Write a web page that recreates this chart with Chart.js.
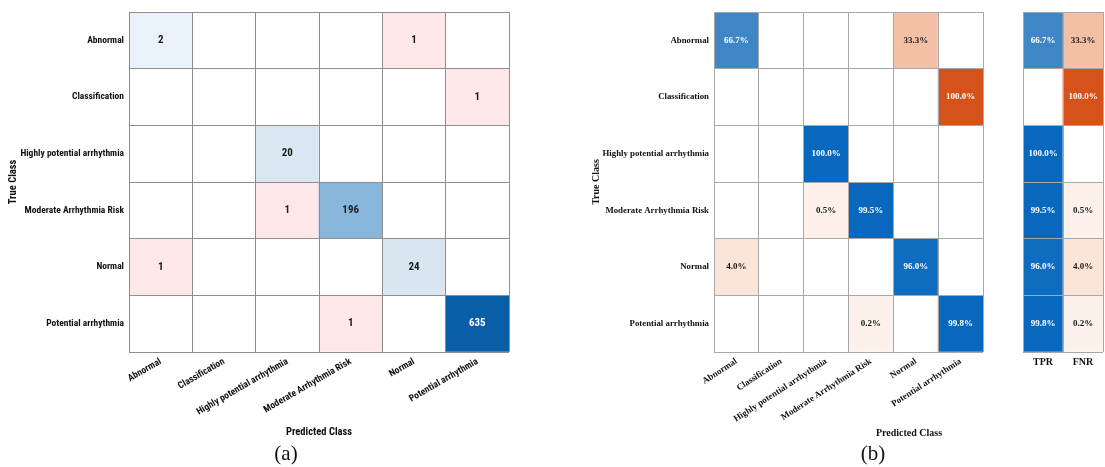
<!DOCTYPE html>
<html>
<head>
<meta charset="utf-8">
<script src="https://cdn.jsdelivr.net/npm/chart.js@4.4.1/dist/chart.umd.min.js"></script>
<style>
  html, body { margin: 0; padding: 0; background: #fff; }
  body { width: 1105px; height: 467px; position: relative; overflow: hidden; }
  canvas { position: absolute; top: 0; }
  .texto { position: absolute; transform: translate(-50%, -50%); white-space: nowrap; color: #111;
           font-family: "Liberation Serif", "Times New Roman", serif; }
  .titulo { font-size: 10px; font-weight: bold; }
  .legenda { font-size: 21px; }
</style>
</head>
<body>
<canvas id="graficoContagem" width="520" height="443" style="left:0"></canvas>
<canvas id="graficoPercentual" width="440" height="443" style="left:560px"></canvas>
<canvas id="graficoTaxas" width="100" height="443" style="left:1005px"></canvas>
<div class="texto titulo" style="left:909px;top:432px">Predicted Class</div>
<div class="texto legenda" style="left:286px;top:453px">(a)</div>
<div class="texto legenda" style="left:873px;top:453px">(b)</div>

<script>
// ===== Dados =====
const classes = ["Abnormal", "Classification", "Highly potential arrhythmia",
                 "Moderate Arrhythmia Risk", "Normal", "Potential arrhythmia"];

// contagens: linha = classe verdadeira, coluna = classe prevista
const contAbnormal       = [2, 0, 0, 0, 1, 0];
const contClassification = [0, 0, 0, 0, 0, 1];
const contHighly         = [0, 0, 20, 0, 0, 0];
const contModerate       = [0, 0, 1, 196, 0, 0];
const contNormal         = [1, 0, 0, 0, 24, 0];
const contPotential      = [0, 0, 0, 1, 0, 635];

// percentuais por linha (%)
const pctAbnormal       = [66.7, 0, 0, 0, 33.3, 0];
const pctClassification = [0, 0, 0, 0, 0, 100.0];
const pctHighly         = [0, 0, 100.0, 0, 0, 0];
const pctModerate       = [0, 0, 0.5, 99.5, 0, 0];
const pctNormal         = [4.0, 0, 0, 0, 96.0, 0];
const pctPotential      = [0, 0, 0, 0.2, 0, 99.8];

// taxas por classe verdadeira
const taxaLabels = ["TPR", "FNR"];
const tpr = [66.7, 0, 100.0, 99.5, 96.0, 99.8];
const fnr = [33.3, 100.0, 0, 0.5, 4.0, 0.2];

const contagens = [contAbnormal, contClassification, contHighly, contModerate, contNormal, contPotential];
const percentuais = [pctAbnormal, pctClassification, pctHighly, pctModerate, pctNormal, pctPotential];
const taxas = tpr.map((t, i) => [t, fnr[i]]);
const nLinhas = classes.length;

// ===== Fontes =====
// usa a versão condensada do Roboto se estiver instalada
function fonteInstalada(nome) {
  const ctx = document.createElement("canvas").getContext("2d");
  const amostra = "Highly potential arrhythmia 0123";
  ctx.font = "bold 20px monospace";
  const base = ctx.measureText(amostra).width;
  ctx.font = `bold 20px '${nome}', monospace`;
  return ctx.measureText(amostra).width !== base;
}
const temCondensada = fonteInstalada("Roboto Condensed");
const fonteSans = temCondensada ? "'Roboto Condensed', Roboto, sans-serif" : "Roboto, 'Liberation Sans', sans-serif";
const tamRotuloA = temCondensada ? 9.5 : 9;
const fonteSerif = "'Liberation Serif', 'Times New Roman', serif";

// ===== Cores =====
function hexRgb(h) {
  const n = parseInt(h.slice(1), 16);
  return [n >> 16, (n >> 8) & 255, n & 255];
}
function rampa(paradas, t) {
  t = Math.max(0, Math.min(1, t));
  for (let i = 1; i < paradas.length; i++) {
    const [t0, c0] = paradas[i - 1];
    const [t1, c1] = paradas[i];
    if (t <= t1) {
      const k = (t - t0) / (t1 - t0);
      const a = hexRgb(c0), b = hexRgb(c1);
      return a.map((x, j) => Math.round(x + (b[j] - x) * k));
    }
  }
  return hexRgb(paradas[paradas.length - 1][1]);
}
const rgb = c => `rgb(${c.join(",")})`;
const corTexto = c => (0.299 * c[0] + 0.587 * c[1] + 0.114 * c[2]) / 255 < 0.55 ? "#ffffff" : "#1a1a1a";

const maxCont = Math.max(...contagens.flat());
const azulCont = [[0, "#ffffff"], [0.17, "#e9f1fa"], [0.5, "#d9e6f2"], [0.82, "#89b7db"], [1, "#0a5ea7"]];
const vermelhoCont = [[0, "#ffffff"], [0.11, "#fde6e7"], [1, "#c0392b"]];
const azulPct = [[0, "#ffffff"], [0.667, "#3f86c6"], [1, "#0868be"]];
const laranjaPct = [[0, "#ffffff"], [0.001, "#fdf2eb"], [0.05, "#fbe1d3"], [0.333, "#f3c0a5"], [1, "#d5531a"]];

function corContagem(v, r, c) {
  if (!v) return [255, 255, 255];
  const t = Math.log(1 + v) / Math.log(1 + maxCont);
  return rampa(r === c ? azulCont : vermelhoCont, t);
}
function corPercentual(v, r, c) {
  if (!v) return [255, 255, 255];
  return rampa(r === c ? azulPct : laranjaPct, v / 100);
}
function corTaxa(v, r, c) {
  if (!v) return [255, 255, 255];
  return rampa(c === 0 ? azulPct : laranjaPct, v / 100);
}

// ===== Datasets: uma linha da matriz por dataset, barras flutuantes de altura 1 =====
function montarLinhas(matriz, corCelula) {
  return matriz.map((linha, r) => {
    const cores = linha.map((v, c) => corCelula(v, r, c));
    return {
      data: linha.map(() => [nLinhas - 1 - r, nLinhas - r]),
      valores: linha,
      backgroundColor: cores.map(rgb),
      corTexto: cores.map(corTexto),
      borderWidth: 0,
      grouped: false,
      barPercentage: 1,
      categoryPercentage: 1
    };
  });
}

// ===== Plugin: texto dentro das células =====
const rotulosCelula = {
  id: "rotulosCelula",
  afterDatasetsDraw(chart, args, opts) {
    const ctx = chart.ctx;
    ctx.save();
    ctx.font = opts.font;
    ctx.textAlign = "center";
    ctx.textBaseline = "middle";
    chart.data.datasets.forEach((ds, i) => {
      chart.getDatasetMeta(i).data.forEach((bar, j) => {
        const v = ds.valores[j];
        if (!v) return;
        const { x, y, base } = bar.getProps(["x", "y", "base"], true);
        ctx.fillStyle = ds.corTexto[j];
        ctx.fillText(opts.formato(v), x, (y + base) / 2);
      });
    });
    ctx.restore();
  }
};

// ===== Eixo y comum: linhas nas bordas, rótulos no meio das linhas =====
function eixoY(fonte, tamanho, tamTitulo, corGrade, larguraEixo, comRotulos, titulo) {
  return {
    min: 0,
    max: nLinhas,
    afterBuildTicks: s => { s.ticks = Array.from({ length: nLinhas * 2 + 1 }, (_, k) => ({ value: k / 2 })); },
    afterFit: s => { s.width = larguraEixo; },
    grid: { drawTicks: false, z: 1, color: c => Number.isInteger(c.tick.value) ? corGrade : "rgba(0,0,0,0)" },
    border: { display: false },
    ticks: {
      display: comRotulos,
      autoSkip: false,
      padding: 5,
      color: "#111",
      font: { family: fonte, size: tamanho, weight: "bold" },
      callback: v => Number.isInteger(v) ? "" : classes[Math.round(nLinhas - 0.5 - v)]
    },
    title: {
      display: !!titulo,
      text: titulo,
      color: "#111",
      font: { family: fonte, size: tamTitulo, weight: "bold" },
      padding: { top: 4, bottom: 0 }
    }
  };
}

function eixoX(fonte, tamanho, tamTitulo, corGrade, rotacao, titulo) {
  return {
    afterFit: s => { s.height = 91; },
    grid: { offset: true, drawTicks: false, z: 1, color: corGrade },
    border: { display: false },
    ticks: {
      autoSkip: false,
      maxRotation: rotacao,
      minRotation: rotacao,
      padding: 4,
      color: "#111",
      font: { family: fonte, size: tamanho, weight: "bold" }
    },
    title: {
      display: !!titulo,
      text: titulo,
      color: "#111",
      font: { family: fonte, size: tamTitulo, weight: "bold" },
      padding: { top: 4, bottom: 4 }
    }
  };
}

function opcoesBase(padding, fonteCelula, formato) {
  return {
    responsive: false,
    animation: false,
    events: [],
    layout: { padding },
    plugins: {
      legend: { display: false },
      tooltip: { enabled: false },
      rotulosCelula: { font: fonteCelula, formato }
    }
  };
}

// ===== (a) Matriz de contagens =====
const opA = opcoesBase({ left: 3, top: 12, right: 11, bottom: 0 }, `bold 11px ${fonteSans}`, v => String(v));
opA.scales = {
  x: eixoX(fonteSans, tamRotuloA, 10.5, "#8e8e8e", 30, "Predicted Class"),
  y: eixoY(fonteSans, tamRotuloA, 10.5, "#8e8e8e", 126, true, "True Class")
};
new Chart(document.getElementById("graficoContagem"), {
  type: "bar",
  data: { labels: classes, datasets: montarLinhas(contagens, corContagem) },
  options: opA,
  plugins: [rotulosCelula]
});

// ===== (b) Matriz percentual =====
const opB = opcoesBase({ left: 26, top: 12, right: 17, bottom: 0 }, `bold 9px ${fonteSerif}`, v => v.toFixed(1) + "%");
opB.scales = {
  x: eixoX(fonteSerif, 9, 10, "#a8a8a8", 33, ""),
  y: eixoY(fonteSerif, 8.8, 10, "#a8a8a8", 128, true, "True Class")
};
new Chart(document.getElementById("graficoPercentual"), {
  type: "bar",
  data: { labels: classes, datasets: montarLinhas(percentuais, corPercentual) },
  options: opB,
  plugins: [rotulosCelula]
});

// ===== (b) TPR / FNR =====
const opC = opcoesBase({ left: 18, top: 12, right: 2, bottom: 0 }, `bold 9px ${fonteSerif}`, v => v.toFixed(1) + "%");
opC.scales = {
  x: eixoX(fonteSerif, 10, 10, "#a8a8a8", 0, ""),
  y: eixoY(fonteSerif, 9, 10, "#a8a8a8", 0, false, "")
};
new Chart(document.getElementById("graficoTaxas"), {
  type: "bar",
  data: { labels: taxaLabels, datasets: montarLinhas(taxas, corTaxa) },
  options: opC,
  plugins: [rotulosCelula]
});
</script>
</body>
</html>
